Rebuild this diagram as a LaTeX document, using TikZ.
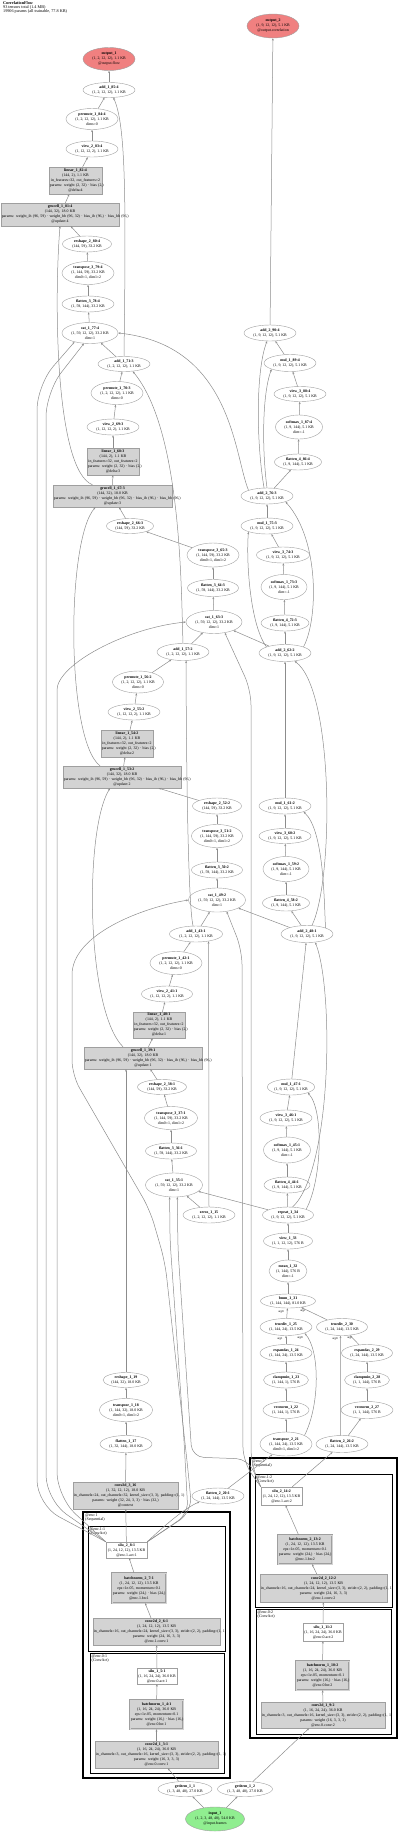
\documentclass[tikz,border=0pt]{standalone}
\usepackage{fontspec}
\setmainfont{Liberation Serif}
\usetikzlibrary{shapes.geometric,arrows.meta,calc}
\definecolor{outred}{HTML}{F08080}
\definecolor{ingreen}{HTML}{90EE90}
\definecolor{modgray}{HTML}{D3D3D3}
\definecolor{edgegray}{HTML}{8C8C8C}
\newcommand{\nsz}{\fontsize{3.9pt}{5pt}\selectfont}
\newcommand{\hsz}{\fontsize{4.2pt}{3.9pt}\selectfont}
\newcommand{\gsz}{\fontsize{4pt}{3.8pt}\selectfont}
\newcommand{\asz}{\fontsize{3pt}{3.4pt}\selectfont}
\tikzset{
  opn/.style={ellipse, draw=gray!75, line width=0.4pt, inner sep=0pt, minimum width=52pt, minimum height=16pt, align=center, font=\nsz},
  modbox/.style={rectangle, draw=gray!75, fill=modgray, line width=0.4pt, inner sep=0.8pt, align=center, font=\nsz},
  bnbox/.style={modbox, double=modgray, double distance=0.7pt},
  actbox/.style={rectangle, draw=gray!75, fill=white, line width=0.4pt, inner sep=0.8pt, align=center, font=\nsz},
  lnk/.style={draw=edgegray, line width=0.5pt, -{Stealth[length=2.4pt,width=1.9pt]}},
  grpbox/.style={draw=black, line width=1.4pt},
  subbox/.style={draw=black, line width=0.8pt},
  grplbl/.style={anchor=north west, align=left, inner sep=0pt, font=\gsz},
  arglbl/.style={inner sep=0pt, font=\asz}
}
\begin{document}
\begin{tikzpicture}[x=1pt, y=-1pt]
\useasboundingbox (0,0) rectangle (400,1832);

% header
\node[anchor=north west, align=left, inner sep=0pt, font=\hsz] (hdr) at (3,1.5) {\textbf{CorrelationFlow}\\93 tensors total (1.4 MB)\\19906 params (all trainable, 77.8 KB)};

% module groups
\draw[grpbox] (83,1512) rectangle (230,1778);
\draw[subbox] (88,1526) rectangle (225,1651);
\draw[subbox] (90,1653) rectangle (224,1773);
\node[grplbl] (encA) at (85,1514) {@enc:1\\(Sequential)};
\node[grplbl] (encA1) at (89.5,1527.5) {@enc.1:1\\(ConvAct)};
\node[grplbl] (encA0) at (91.5,1654.5) {@enc.0:1\\(ConvAct)};
\draw[grpbox] (250,1458) rectangle (397,1738);
\draw[subbox] (255,1474) rectangle (392,1607);
\draw[subbox] (256,1609) rectangle (391,1734);
\node[grplbl] (encB) at (252,1460) {@enc:2\\(Sequential)};
\node[grplbl] (encB1) at (256.5,1475.5) {@enc.1:2\\(ConvAct)};
\node[grplbl] (encB0) at (257.5,1610.5) {@enc.0:2\\(ConvAct)};

% outputs
\node[opn, fill=outred, minimum height=24pt] (output2) at (273,26) {\textbf{output\_2}\\(1, 9, 12, 12), 5.1 KB\\@output.correlation};
\node[opn, fill=outred, minimum height=23pt] (output1) at (109,59) {\textbf{output\_1}\\(1, 2, 12, 12), 1.1 KB\\@output.flow};

% pass 4
\node[opn, minimum height=15pt] (add185) at (109,90) {\textbf{add\_1\_85:4}\\(1, 2, 12, 12), 1.1 KB};
\node[opn, minimum height=21pt] (perm184) at (92,119) {\textbf{permute\_1\_84:4}\\(1, 2, 12, 12), 1.1 KB\\dims=0};
\node[opn] (view283) at (92,149) {\textbf{view\_2\_83:4}\\(1, 12, 12, 2), 1.1 KB};
\node[modbox, text width=51.4pt, minimum height=27pt] (lin182) at (75.5,180.5) {\textbf{linear\_1\_82:4}\\(144, 2), 1.1 KB\\\mbox{in\_features=32, out\_features=2}\\\mbox{params: weight (2, 32) · bias (2,)}\\@delta:4};
\node[modbox, text width=116.4pt, minimum height=23pt] (gru181) at (60,214.5) {\textbf{grucell\_1\_81:4}\\(144, 32), 18.0 KB\\\mbox{params: weight\_ih (96, 59) · weight\_hh (96, 32) · bias\_ih (96,) · bias\_hh (96,)}\\@update:4};
\node[opn, minimum width=49pt] (resh280) at (87,244) {\textbf{reshape\_2\_80:4}\\(144, 59), 33.2 KB};
\node[opn, minimum height=23pt] (trans379) at (88,273) {\textbf{transpose\_3\_79:4}\\(1, 144, 59), 33.2 KB\\dim0=1, dim1=2};
\node[opn] (flat378) at (88,304) {\textbf{flatten\_3\_78:4}\\(1, 59, 144), 33.2 KB};
\node[opn, minimum width=56pt, minimum height=21pt] (cat177) at (90,333) {\textbf{cat\_1\_77:4}\\(1, 59, 12, 12), 33.2 KB\\dim=1};
\node[opn] (add290) at (270,333) {\textbf{add\_2\_90:4}\\(1, 9, 12, 12), 5.1 KB};
\node[opn, minimum height=17pt] (mul189) at (290,363) {\textbf{mul\_1\_89:4}\\(1, 9, 12, 12), 5.1 KB};
\node[opn, minimum height=15pt] (view388) at (300,394) {\textbf{view\_3\_88:4}\\(1, 9, 12, 12), 5.1 KB};
\node[opn, minimum width=47pt, minimum height=24pt] (soft187) at (299,427) {\textbf{softmax\_1\_87:4}\\(1, 9, 144), 5.1 KB\\dim=-1};
\node[opn, minimum width=47pt] (flat486) at (298,462) {\textbf{flatten\_4\_86:4}\\(1, 9, 144), 5.1 KB};

% pass 3
\node[opn, minimum height=15pt] (add171) at (124,364) {\textbf{add\_1\_71:3}\\(1, 2, 12, 12), 1.1 KB};
\node[opn, minimum height=23pt] (perm170) at (117,393) {\textbf{permute\_1\_70:3}\\(1, 2, 12, 12), 1.1 KB\\dims=0};
\node[opn] (view269) at (113,427) {\textbf{view\_2\_69:3}\\(1, 12, 12, 2), 1.1 KB};
\node[modbox, text width=50.4pt, minimum height=27pt] (lin168) at (113,461.5) {\textbf{linear\_1\_68:3}\\(144, 2), 1.1 KB\\\mbox{in\_features=32, out\_features=2}\\\mbox{params: weight (2, 32) · bias (2,)}\\@delta:3};
\node[modbox, text width=117.4pt, minimum height=22pt] (gru167) at (112.5,496) {\textbf{grucell\_1\_67:3}\\(144, 32), 18.0 KB\\\mbox{params: weight\_ih (96, 59) · weight\_hh (96, 32) · bias\_ih (96,) · bias\_hh (96,)}\\@update:3};
\node[opn, minimum width=47pt, minimum height=15pt] (resh266) at (130,526) {\textbf{reshape\_2\_66:3}\\(144, 59), 33.2 KB};
\node[opn, minimum height=24pt] (trans365) at (213,555) {\textbf{transpose\_3\_65:3}\\(1, 144, 59), 33.2 KB\\dim0=1, dim1=2};
\node[opn, minimum width=51pt, minimum height=17pt] (flat364) at (213,588) {\textbf{flatten\_3\_64:3}\\(1, 59, 144), 33.2 KB};
\node[opn, minimum width=56pt, minimum height=23pt] (cat163) at (214,622) {\textbf{cat\_1\_63:3}\\(1, 59, 12, 12), 33.2 KB\\dim=1};
\node[opn] (add276) at (267,496) {\textbf{add\_2\_76:3}\\(1, 9, 12, 12), 5.1 KB};
\node[opn] (mul175) at (267,526) {\textbf{mul\_1\_75:3}\\(1, 9, 12, 12), 5.1 KB};
\node[opn, minimum width=53pt] (view374) at (283,555) {\textbf{view\_3\_74:3}\\(1, 9, 12, 12), 5.1 KB};
\node[opn, minimum width=46pt, minimum height=25pt] (soft173) at (284,587) {\textbf{softmax\_1\_73:3}\\(1, 9, 144), 5.1 KB\\dim=-1};
\node[opn, minimum width=48pt] (flat472) at (285,623) {\textbf{flatten\_4\_72:3}\\(1, 9, 144), 5.1 KB};

% pass 2
\node[opn, minimum height=17pt] (add157) at (183,652) {\textbf{add\_1\_57:2}\\(1, 2, 12, 12), 1.1 KB};
\node[opn, minimum width=51pt, minimum height=22pt] (perm156) at (138,682) {\textbf{permute\_1\_56:2}\\(1, 2, 12, 12), 1.1 KB\\dims=0};
\node[opn] (view255) at (134,712) {\textbf{view\_2\_55:2}\\(1, 12, 12, 2), 1.1 KB};
\node[modbox, text width=50.4pt, minimum height=27pt] (lin154) at (127,743.5) {\textbf{linear\_1\_54:2}\\(144, 2), 1.1 KB\\\mbox{in\_features=32, out\_features=2}\\\mbox{params: weight (2, 32) · bias (2,)}\\@delta:2};
\node[modbox, text width=116.4pt, minimum height=22pt] (gru153) at (122,777) {\textbf{grucell\_1\_53:2}\\(144, 32), 18.0 KB\\\mbox{params: weight\_ih (96, 59) · weight\_hh (96, 32) · bias\_ih (96,) · bias\_hh (96,)}\\@update:2};
\node[opn, minimum width=49pt] (resh252) at (217,806) {\textbf{reshape\_2\_52:2}\\(144, 59), 33.2 KB};
\node[opn, minimum width=51pt, minimum height=23pt] (trans351) at (217,836) {\textbf{transpose\_3\_51:2}\\(1, 144, 59), 33.2 KB\\dim0=1, dim1=2};
\node[opn, minimum width=51pt] (flat350) at (217,870) {\textbf{flatten\_3\_50:2}\\(1, 59, 144), 33.2 KB};
\node[opn, minimum width=57pt, minimum height=24pt] (cat149) at (217,900) {\textbf{cat\_1\_49:2}\\(1, 59, 12, 12), 33.2 KB\\dim=1};
\node[opn, minimum height=17pt] (add262) at (285,653) {\textbf{add\_2\_62:2}\\(1, 9, 12, 12), 5.1 KB};
\node[opn] (mul161) at (285,806) {\textbf{mul\_1\_61:2}\\(1, 9, 12, 12), 5.1 KB};
\node[opn, minimum height=15pt] (view360) at (285,836) {\textbf{view\_3\_60:2}\\(1, 9, 12, 12), 5.1 KB};
\node[opn, minimum width=46pt, minimum height=25pt] (soft159) at (286,869) {\textbf{softmax\_1\_59:2}\\(1, 9, 144), 5.1 KB\\dim=-1};
\node[opn, minimum width=47pt] (flat458) at (286,903) {\textbf{flatten\_4\_58:2}\\(1, 9, 144), 5.1 KB};

% pass 1
\node[opn, minimum width=53pt] (add143) at (196,934) {\textbf{add\_1\_43:1}\\(1, 2, 12, 12), 1.1 KB};
\node[opn, minimum height=23pt] (perm142) at (176,963) {\textbf{permute\_1\_42:1}\\(1, 2, 12, 12), 1.1 KB\\dims=0};
\node[opn, minimum width=51pt] (view241) at (167,994) {\textbf{view\_2\_41:1}\\(1, 12, 12, 2), 1.1 KB};
\node[modbox, text width=50.4pt, minimum height=26pt] (lin140) at (159,1025) {\textbf{linear\_1\_40:1}\\(144, 2), 1.1 KB\\\mbox{in\_features=32, out\_features=2}\\\mbox{params: weight (2, 32) · bias (2,)}\\@delta:1};
\node[modbox, text width=116.4pt, minimum height=22pt] (gru139) at (143,1058) {\textbf{grucell\_1\_39:1}\\(144, 32), 18.0 KB\\\mbox{params: weight\_ih (96, 59) · weight\_hh (96, 32) · bias\_ih (96,) · bias\_hh (96,)}\\@update:1};
\node[opn, minimum width=49pt, minimum height=15pt] (resh238) at (162,1087) {\textbf{reshape\_2\_38:1}\\(144, 59), 33.2 KB};
\node[opn, minimum width=53pt, minimum height=23pt] (trans337) at (171,1118) {\textbf{transpose\_3\_37:1}\\(1, 144, 59), 33.2 KB\\dim0=1, dim1=2};
\node[opn, minimum width=51pt] (flat336) at (171,1151) {\textbf{flatten\_3\_36:1}\\(1, 59, 144), 33.2 KB};
\node[opn, minimum width=57pt, minimum height=24pt] (cat135) at (174,1185) {\textbf{cat\_1\_35:1}\\(1, 59, 12, 12), 33.2 KB\\dim=1};
\node[opn, minimum height=17pt] (add248) at (307,934) {\textbf{add\_2\_48:1}\\(1, 9, 12, 12), 5.1 KB};
\node[opn, minimum width=46pt] (mul147) at (291,1087) {\textbf{mul\_1\_47:1}\\(1, 9, 12, 12), 5.1 KB};
\node[opn] (view346) at (286,1118) {\textbf{view\_3\_46:1}\\(1, 9, 12, 12), 5.1 KB};
\node[opn, minimum width=47pt, minimum height=26pt] (soft145) at (287,1150) {\textbf{softmax\_1\_45:1}\\(1, 9, 144), 5.1 KB\\dim=-1};
\node[opn, minimum width=46pt] (flat444) at (287,1185) {\textbf{flatten\_4\_44:1}\\(1, 9, 144), 5.1 KB};

% correlation volume
\node[opn] (zeros) at (209,1215) {\textbf{zeros\_1\_15}\\(1, 2, 12, 12), 1.1 KB};
\node[opn, minimum width=51pt] (repeat134) at (288,1215) {\textbf{repeat\_1\_34}\\(1, 9, 12, 12), 5.1 KB};
\node[opn, minimum width=49pt] (view133) at (288,1241) {\textbf{view\_1\_33}\\(1, 1, 12, 12), 576 B};
\node[opn, minimum width=38pt, minimum height=22pt] (mean132) at (288,1271) {\textbf{mean\_1\_32}\\(1, 144), 576 B\\dim=-1};
\node[opn, minimum width=55pt, minimum height=14pt] (bmm131) at (288,1301) {\textbf{bmm\_1\_31}\\(1, 144, 144), 81.0 KB};
\node[opn, minimum height=17pt] (truediv125) at (286,1327) {\textbf{truediv\_1\_25}\\(1, 144, 24), 13.5 KB};
\node[opn, minimum width=51pt, minimum height=17pt] (truediv230) at (342,1327) {\textbf{truediv\_2\_30}\\(1, 24, 144), 13.5 KB};
\node[opn, minimum height=17pt] (expand124) at (286,1353) {\textbf{expandas\_1\_24}\\(1, 144, 24), 13.5 KB};
\node[opn, minimum width=51pt, minimum height=17pt] (expand229) at (367,1353) {\textbf{expandas\_2\_29}\\(1, 24, 144), 13.5 KB};
\node[opn, minimum width=45pt] (clamp123) at (286,1380) {\textbf{clampmin\_1\_23}\\(1, 144, 1), 576 B};
\node[opn, minimum width=45pt] (clamp228) at (367,1380) {\textbf{clampmin\_2\_28}\\(1, 1, 144), 576 B};
\node[opn, minimum width=46pt, minimum height=17pt] (vnorm122) at (286,1410) {\textbf{vecnorm\_1\_22}\\(1, 144, 1), 576 B};
\node[opn, minimum height=17pt] (vnorm227) at (367,1410) {\textbf{vecnorm\_2\_27}\\(1, 1, 144), 576 B};
\node[opn, minimum height=24pt] (trans221) at (286,1444) {\textbf{transpose\_2\_21}\\(1, 144, 24), 13.5 KB\\dim0=1, dim1=2};
\node[opn, minimum height=17pt] (flat226) at (342,1444) {\textbf{flatten\_2\_26:2}\\(1, 24, 144), 13.5 KB};
\node[opn] (flat220) at (218,1496) {\textbf{flatten\_2\_20:1}\\(1, 24, 144), 13.5 KB};
\node[arglbl] (lbmm0) at (281,1312) {arg0};
\node[arglbl] (lbmm1) at (303,1311) {arg1};
\node[arglbl] (ltd11) at (280,1339) {arg1};
\node[arglbl] (ltd10) at (300,1337.5) {arg0};
\node[arglbl] (ltd20) at (335,1339) {arg0};
\node[arglbl] (ltd21) at (350,1338) {arg1};

% context
\node[opn, minimum width=46pt, minimum height=15pt] (resh119) at (126,1380) {\textbf{reshape\_1\_19}\\(144, 32), 18.0 KB};
\node[opn, minimum width=53pt, minimum height=23pt] (trans118) at (126,1410) {\textbf{transpose\_1\_18}\\(1, 144, 32), 18.0 KB\\dim0=1, dim1=2};
\node[opn, minimum height=17pt] (flat117) at (126,1444) {\textbf{flatten\_1\_17}\\(1, 32, 144), 18.0 KB};
\node[modbox, text width=103.4pt, minimum height=27pt] (conv316) at (125.5,1495.5) {\textbf{conv2d\_3\_16}\\(1, 32, 12, 12), 18.0 KB\\\mbox{in\_channels=24, out\_channels=32, kernel\_size=(3, 3), padding=(1, 1)}\\\mbox{params: weight (32, 24, 3, 3) · bias (32,)}\\@context};

% encoder, frame 1
\node[actbox, minimum width=41pt, minimum height=16pt] (silu28) at (126.5,1550) {\textbf{silu\_2\_8:1}\\(1, 24, 12, 12), 13.5 KB\\@enc.1.act:1};
\node[bnbox, text width=52.4pt, minimum height=30pt] (bn27) at (139,1588) {\textbf{batchnorm\_2\_7:1}\\(1, 24, 12, 12), 13.5 KB\\eps=1e-05, momentum=0.1\\\mbox{params: weight (24,) · bias (24,)}\\@enc.1.bn:1};
\node[modbox, text width=125.4pt, minimum height=27pt] (conv26) at (156.5,1631.5) {\textbf{conv2d\_2\_6:1}\\(1, 24, 12, 12), 13.5 KB\\\mbox{in\_channels=16, out\_channels=24, kernel\_size=(3, 3), stride=(2, 2), padding=(1, 1)}\\params: weight (24, 16, 3, 3)\\@enc.1.conv:1};
\node[actbox, minimum width=40pt, minimum height=16pt] (silu15) at (157,1676) {\textbf{silu\_1\_5:1}\\(1, 16, 24, 24), 36.0 KB\\@enc.0.act:1};
\node[bnbox, text width=51.4pt, minimum height=29pt] (bn14) at (156.5,1714.5) {\textbf{batchnorm\_1\_4:1}\\(1, 16, 24, 24), 36.0 KB\\eps=1e-05, momentum=0.1\\\mbox{params: weight (16,) · bias (16,)}\\@enc.0.bn:1};
\node[modbox, text width=121.4pt, minimum height=27pt] (conv13) at (156.5,1754.5) {\textbf{conv2d\_1\_3:1}\\(1, 16, 24, 24), 36.0 KB\\\mbox{in\_channels=3, out\_channels=16, kernel\_size=(3, 3), stride=(2, 2), padding=(1, 1)}\\params: weight (16, 3, 3, 3)\\@enc.0.conv:1};

% encoder, frame 2
\node[actbox, minimum width=41pt, minimum height=18pt] (silu214) at (281.5,1496) {\textbf{silu\_2\_14:2}\\(1, 24, 12, 12), 13.5 KB\\@enc.1.act:2};
\node[bnbox, text width=52.4pt, minimum height=29pt] (bn213) at (305,1549.5) {\textbf{batchnorm\_2\_13:2}\\(1, 24, 12, 12), 13.5 KB\\eps=1e-05, momentum=0.1\\\mbox{params: weight (24,) · bias (24,)}\\@enc.1.bn:2};
\node[modbox, text width=125.4pt, minimum height=28pt] (conv212) at (323.5,1588) {\textbf{conv2d\_2\_12:2}\\(1, 24, 12, 12), 13.5 KB\\\mbox{in\_channels=16, out\_channels=24, kernel\_size=(3, 3), stride=(2, 2), padding=(1, 1)}\\params: weight (24, 16, 3, 3)\\@enc.1.conv:2};
\node[actbox, minimum width=40pt, minimum height=18pt] (silu111) at (323,1632) {\textbf{silu\_1\_11:2}\\(1, 16, 24, 24), 36.0 KB\\@enc.0.act:2};
\node[bnbox, text width=51.4pt, minimum height=29pt] (bn110) at (322.5,1675.5) {\textbf{batchnorm\_1\_10:2}\\(1, 16, 24, 24), 36.0 KB\\eps=1e-05, momentum=0.1\\\mbox{params: weight (16,) · bias (16,)}\\@enc.0.bn:2};
\node[modbox, text width=122.4pt, minimum height=26pt] (conv19) at (323,1715) {\textbf{conv2d\_1\_9:2}\\(1, 16, 24, 24), 36.0 KB\\\mbox{in\_channels=3, out\_channels=16, kernel\_size=(3, 3), stride=(2, 2), padding=(1, 1)}\\params: weight (16, 3, 3, 3)\\@enc.0.conv:2};

% input
\node[opn, minimum width=54pt, minimum height=15pt] (get11) at (185,1789) {\textbf{getitem\_1\_1}\\(1, 3, 48, 48), 27.0 KB};
\node[opn, minimum width=55pt, minimum height=15pt] (get12) at (245,1789) {\textbf{getitem\_1\_2}\\(1, 3, 48, 48), 27.0 KB};
\node[opn, fill=ingreen, minimum width=59pt, minimum height=24pt] (input1) at (215,1819) {\textbf{input\_1}\\(1, 2, 3, 48, 48), 54.0 KB\\@input.frames};

% encoder links
\draw[lnk] (input1) -- (get11);
\draw[lnk] (input1) -- (get12);
\draw[lnk] (get11) -- (conv13);
\draw[lnk] (conv13) -- (bn14);
\draw[lnk] (bn14) -- (silu15);
\draw[lnk] (silu15) -- (conv26);
\draw[lnk] (conv26) -- (bn27);
\draw[lnk] (bn27) -- (silu28);
\draw[lnk] (get12) -- (conv19);
\draw[lnk] (conv19) -- (bn110);
\draw[lnk] (bn110) -- (silu111);
\draw[lnk] (silu111) -- (conv212);
\draw[lnk] (conv212) -- (bn213);
\draw[lnk] (bn213) -- (silu214);

% correlation links
\draw[lnk] (silu28.north east) .. controls (165,1525) and (185,1508) .. (flat220.south west);
\draw[lnk] (flat220) -- (trans221);
\draw[lnk] (trans221) -- (vnorm122);
\draw[lnk] (vnorm122) -- (clamp123);
\draw[lnk] (clamp123) -- (expand124);
\draw[lnk] (expand124) -- (truediv125);
\draw[lnk] (trans221.north east) .. controls (320,1405) and (320,1350) .. (truediv125.south east);
\draw[lnk] (silu214) -- (flat226);
\draw[lnk] (flat226) -- (vnorm227);
\draw[lnk] (vnorm227) -- (clamp228);
\draw[lnk] (clamp228) -- (expand229);
\draw[lnk] (expand229) -- (truediv230);
\draw[lnk] (flat226.100) -- (truediv230.260);
\draw[lnk] (truediv125) -- (bmm131);
\draw[lnk] (truediv230) -- (bmm131);
\draw[lnk] (bmm131) -- (mean132);
\draw[lnk] (mean132) -- (view133);
\draw[lnk] (view133) -- (repeat134);

% context links
\draw[lnk] (silu28) -- (conv316);
\draw[lnk] (conv316) -- (flat117);
\draw[lnk] (flat117) -- (trans118);
\draw[lnk] (trans118) -- (resh119);
\draw[lnk] (resh119) -- (resh119 |- gru139.south);

% feature maps into the cat nodes
\draw[lnk, rounded corners=25pt] (silu28.north west) -- (37,1505) -- (37,385) -- (cat177.-150);
\draw[lnk, rounded corners=25pt] (silu28.north west) -- (46,1500) -- (46,392) -- (cat177.-120);
\draw[lnk, rounded corners=25pt] (silu28.north west) -- (57,1497) -- (57,715) .. controls (57,665) and (125,628) .. (cat163.west);
\draw[lnk, rounded corners=15pt] (silu28.north east) -- (192,1512) -- (188,1470) -- (165,1262) -- (150,1210) -- (72,1075) -- (72,990) .. controls (72,935) and (140,908) .. (cat149.west);
\draw[lnk, rounded corners=12pt] (silu28.north east) -- (188,1514) -- (184,1440) -- (170,1240) -- (cat135.-110);
\draw[lnk, rounded corners=12pt] (silu214.north west) -- (248,1459) -- (192,1457) -- (178,1250) -- (cat135.-75);
\draw[lnk, rounded corners=15pt] (silu214.north west) -- (243,1462) -- (242,950) -- (cat149.-50);
\draw[lnk, rounded corners=15pt] (silu214.north west) -- (251,1464) -- (251,690) -- (cat163.-45);

% pass 1 links
\draw[lnk] (zeros) -- (cat135);
\draw[lnk] (repeat134) -- (cat135);
\draw[lnk] (zeros.north) -- (add143.-30);
\draw[lnk] (cat135) -- (flat336);
\draw[lnk] (flat336) -- (trans337);
\draw[lnk] (trans337) -- (resh238);
\draw[lnk] (resh238) -- (gru139);
\draw[lnk] (gru139) -- (lin140);
\draw[lnk] (lin140) -- (view241);
\draw[lnk] (view241) -- (perm142);
\draw[lnk] (perm142) -- (add143);
\draw[lnk] (repeat134) -- (flat444);
\draw[lnk] (flat444) -- (soft145);
\draw[lnk] (soft145) -- (view346);
\draw[lnk] (view346) -- (mul147);
\draw[lnk] (mul147) -- (add248);
\draw[lnk] (repeat134.north east) .. controls (322,1180) and (324,1110) .. (mul147.south east);
\draw[lnk] (repeat134.60) .. controls (332,1170) and (334,990) .. (add248.-45);

% pass 2 links
\draw[lnk] (add143) -- (cat149);
\draw[lnk] (add248) -- (cat149);
\draw[lnk] (add143.110) .. controls (187,900) and (186,700) .. (add157.-70);
\draw[lnk] ($(gru139.north)+(-20,0)$) .. controls (86,1010) and (84,830) .. ($(gru153.south)+(-12,0)$);
\draw[lnk] (cat149) -- (flat350);
\draw[lnk] (flat350) -- (trans351);
\draw[lnk] (trans351) -- (resh252);
\draw[lnk] (resh252) -- (gru153);
\draw[lnk] (gru153) -- (lin154);
\draw[lnk] (lin154) -- (view255);
\draw[lnk] (view255) -- (perm156);
\draw[lnk] (perm156) -- (add157);
\draw[lnk] (add248) -- (flat458);
\draw[lnk] (flat458) -- (soft159);
\draw[lnk] (soft159) -- (view360);
\draw[lnk] (view360) -- (mul161);
\draw[lnk] (mul161) -- (add262);
\draw[lnk] (add248.north east) .. controls (324,900) and (324,830) .. (mul161.south east);
\draw[lnk] (add248.60) .. controls (334,880) and (334,690) .. (add262.-40);

% pass 3 links
\draw[lnk] (add157) -- (cat163);
\draw[lnk] (add262) -- (cat163);
\draw[lnk] (add157.north) .. controls (181,590) and (182,430) .. (add171.-40);
\draw[lnk] ($(gru153.north)+(-22,0)$) .. controls (66,740) and (66,540) .. ($(gru167.south)+(-17,0)$);
\draw[lnk] (cat163) -- (flat364);
\draw[lnk] (flat364) -- (trans365);
\draw[lnk] (trans365) -- (resh266);
\draw[lnk] (resh266) -- (gru167);
\draw[lnk] (gru167) -- (lin168);
\draw[lnk] (lin168) -- (view269);
\draw[lnk] (view269) -- (perm170);
\draw[lnk] (perm170) -- (add171);
\draw[lnk] (add262) -- (flat472);
\draw[lnk] (flat472) -- (soft173);
\draw[lnk] (soft173) -- (view374);
\draw[lnk] (view374) -- (mul175);
\draw[lnk] (mul175) -- (add276);
\draw[lnk] (add262.north west) .. controls (250,625) and (246,560) .. (mul175.south west);
\draw[lnk] (add262.north east) .. controls (318,620) and (320,540) .. (add276.south east);

% pass 4 links
\draw[lnk] (add171) -- (cat177);
\draw[lnk] (add276.north west) .. controls (234,455) and (232,345) .. (cat177.east);
\draw[lnk] (add171.north) .. controls (126,200) and (126,125) .. (add185.-60);
\draw[lnk] ($(gru167.north)+(-20,0)$) .. controls (55,470) and (54,300) .. (gru181.south);
\draw[lnk] (cat177) -- (flat378);
\draw[lnk] (flat378) -- (trans379);
\draw[lnk] (trans379) -- (resh280);
\draw[lnk] (resh280) -- (gru181);
\draw[lnk] (gru181) -- (lin182);
\draw[lnk] (lin182) -- (view283);
\draw[lnk] (view283) -- (perm184);
\draw[lnk] (perm184) -- (add185);
\draw[lnk] (add185) -- (output1);
\draw[lnk] (add276) -- (flat486);
\draw[lnk] (flat486) -- (soft187);
\draw[lnk] (soft187) -- (view388);
\draw[lnk] (view388) -- (mul189);
\draw[lnk] (mul189) -- (add290);
\draw[lnk] (add276.north) .. controls (262,450) and (262,395) .. (mul189.south west);
\draw[lnk] (add276.110) .. controls (256,440) and (256,370) .. (add290.-110);
\draw[lnk] (add290) -- (output2);
\end{tikzpicture}
\end{document}
